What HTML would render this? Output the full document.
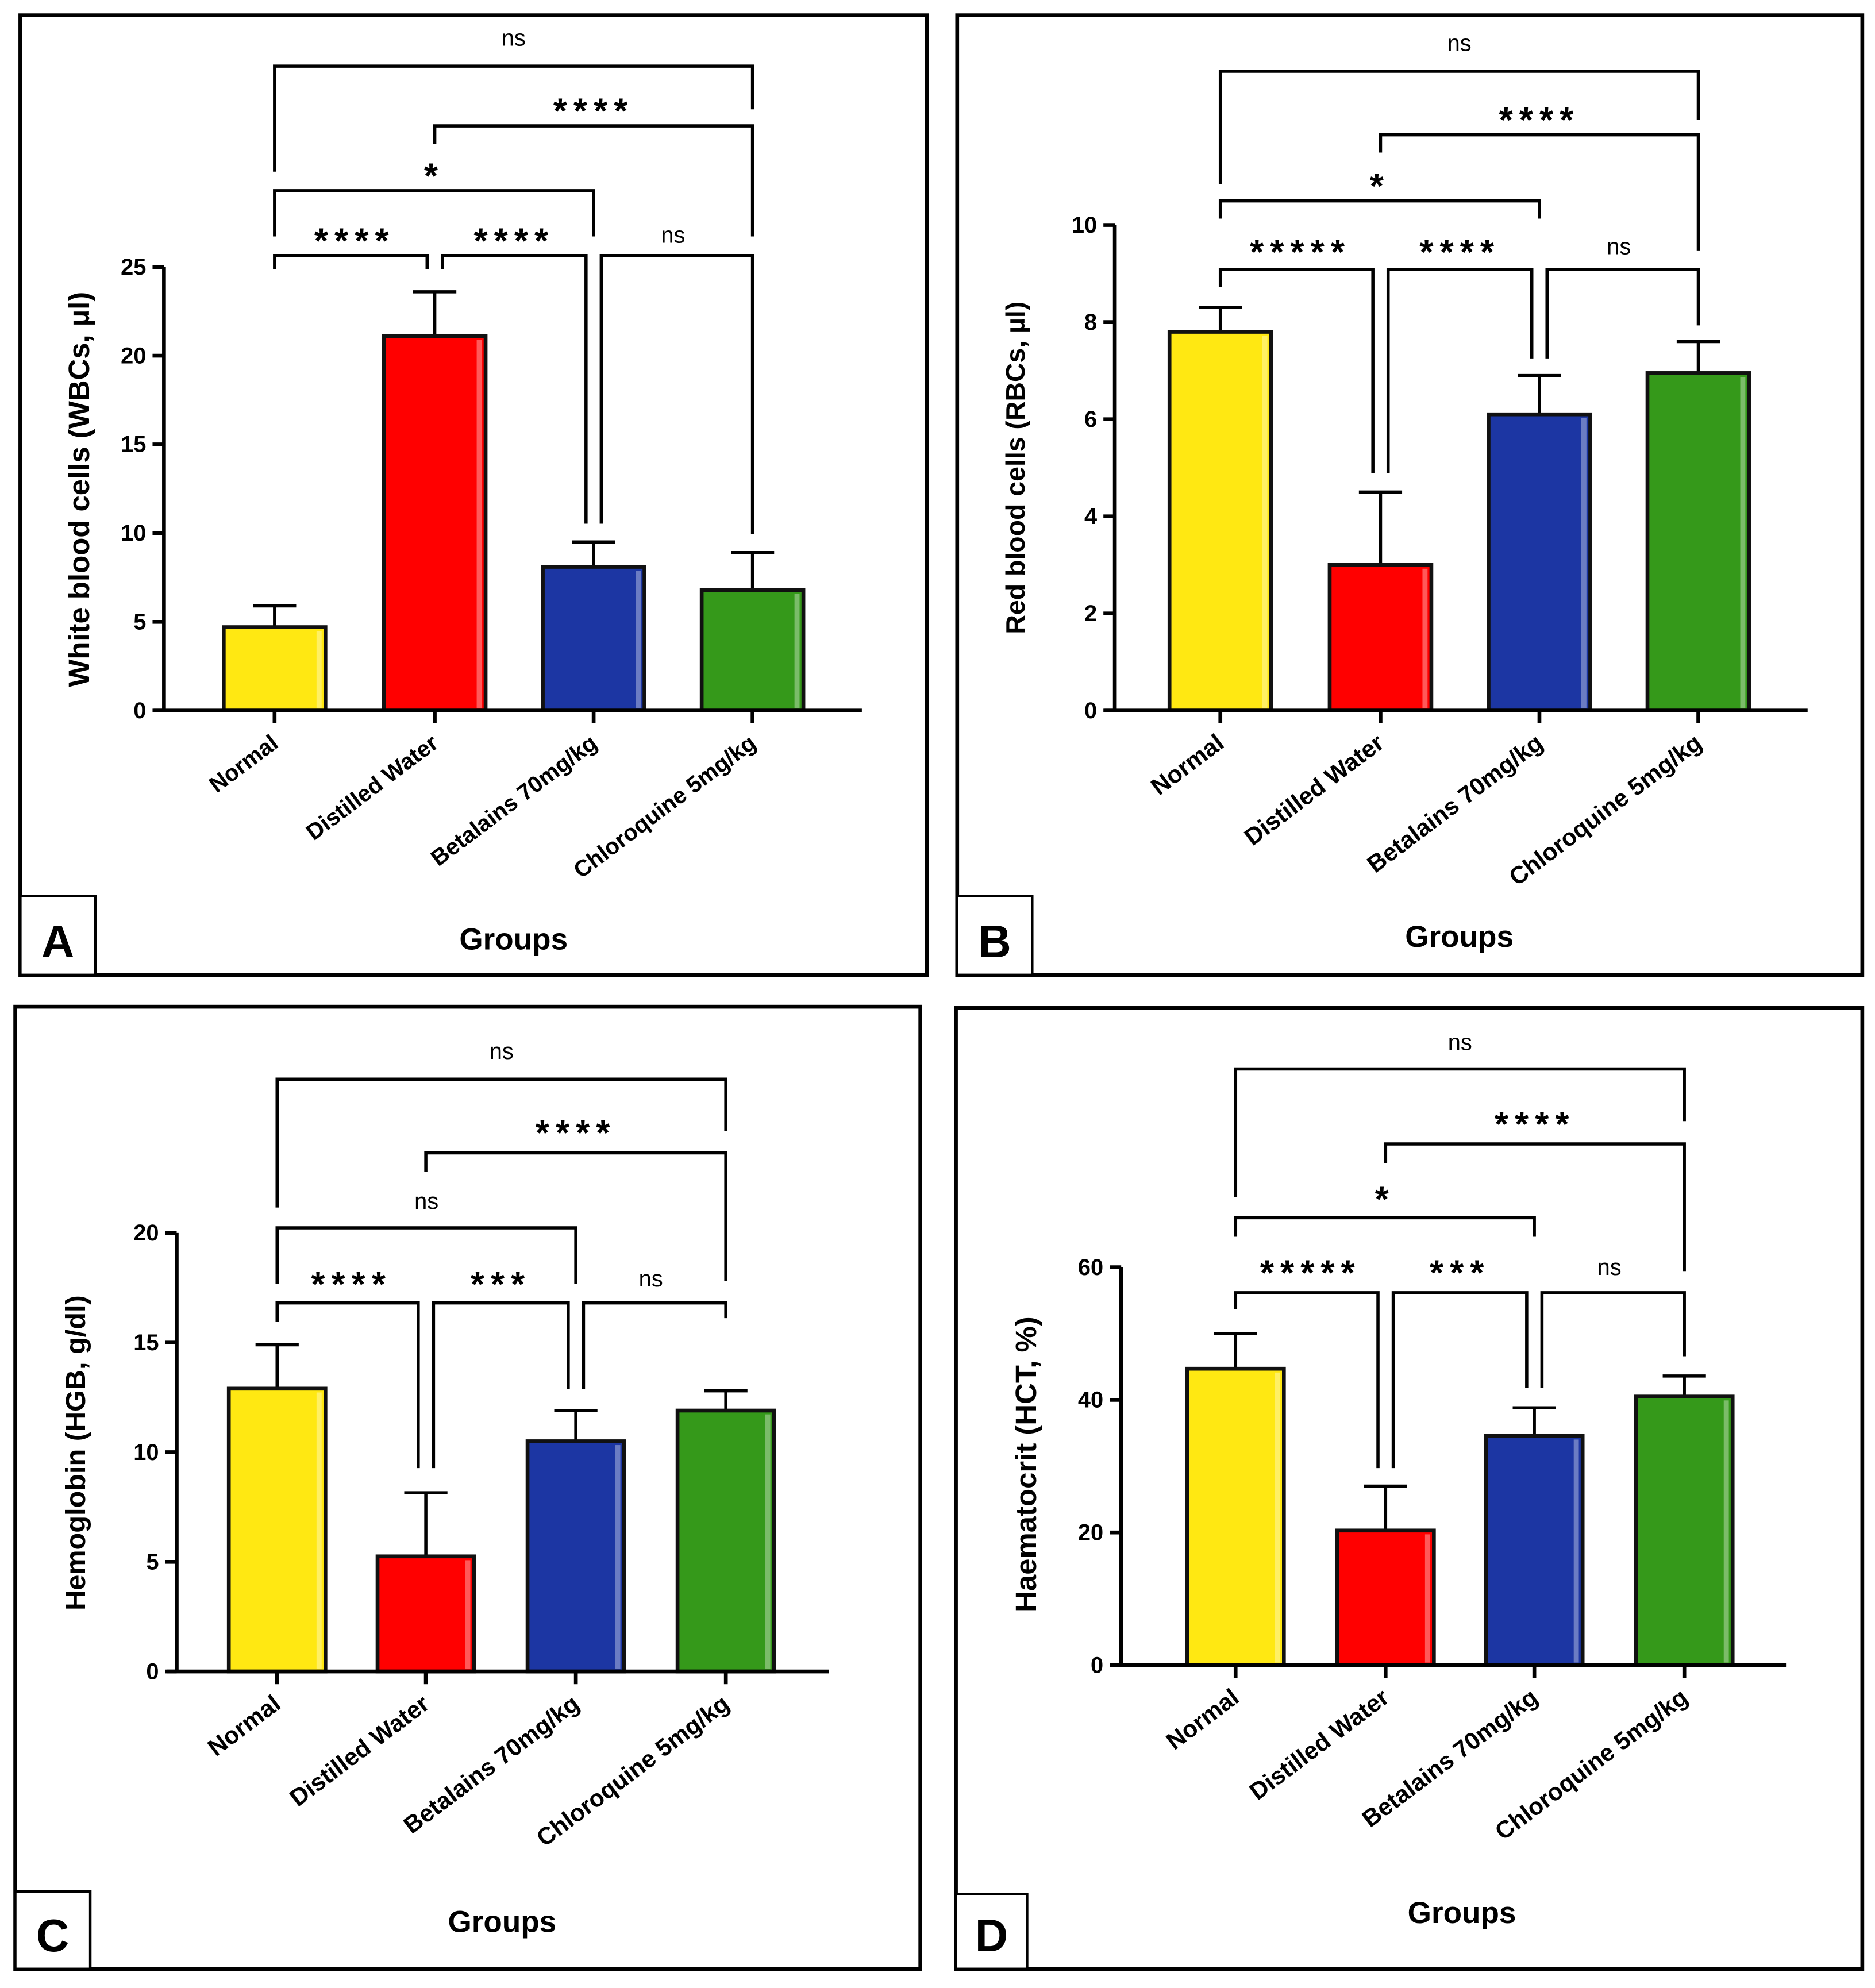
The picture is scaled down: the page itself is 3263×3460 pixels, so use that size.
<!DOCTYPE html>
<html><head><meta charset="utf-8"><style>
html,body{margin:0;padding:0;background:#fff;}
svg{display:block;}
text{font-family:"Liberation Sans",Arial,sans-serif;font-weight:bold;fill:#000;}
</style></head><body>
<svg id="fig" width="3263" height="3460" viewBox="0 0 1475 1564" xmlns="http://www.w3.org/2000/svg"></svg>
<script>
const categories = ["Normal","Distilled Water","Betalains 70mg/kg","Chloroquine 5mg/kg"];
const categoriesA = ["Normal","Distilled Water","Betalains 70mg/kg","Chloroquine  5mg/kg"];
const barColors = ["#ffe812","#ff0000","#1c36a3","#35991a"];
const meansA = [4.7, 21.1, 8.1, 6.8];
const errsA  = [5.9, 23.6, 9.5, 8.9];
const ticksA = [0,5,10,15,20,25];
const meansB = [7.8, 3.0, 6.1, 6.95];
const errsB  = [8.3, 4.5, 6.9, 7.6];
const ticksB = [0,2,4,6,8,10];
const meansC = [12.9, 5.25, 10.5, 11.9];
const errsC  = [14.9, 8.15, 11.9, 12.8];
const ticksC = [0,5,10,15,20];
const meansD = [44.7, 20.3, 34.6, 40.5];
const errsD  = [50, 27, 38.8, 43.6];
const ticksD = [0,20,40,60];
const sigA = ["ns","****","*","****","****","ns"];
const sigB = ["ns","****","*","*****","****","ns"];
const sigC = ["ns","****","ns","****","***","ns"];
const sigD = ["ns","****","*","*****","***","ns"];

const NS="http://www.w3.org/2000/svg";
const svg=document.getElementById('fig');
function mk(tag,attrs,parent){const e=document.createElementNS(NS,tag);for(const k in attrs)e.setAttribute(k,attrs[k]);(parent||svg).appendChild(e);return e;}

const panels=[
 {id:'a',letter:'A',frame:[16,12,729,767],box:[16,705,75,767],ax:129,y0:559,yTop:210,xEnd:678,centers:[216,342,467,592],bw:80,
  ticks:ticksA,means:meansA,errs:errsA,cats:categoriesA,title:"White blood cells (WBCs, µl)",tsz:23,tx:70,ty:385,gx:404,groupsY:747,fs:18,sig:sigA,
  br:[[52,32,135,86],[99,85,113,186],[150,136,186,186],[201,187]],low:[212,212,412,420]},
 {id:'b',letter:'B',frame:[753,12,1465,767],box:[753,705,812,767],ax:877,y0:559,yTop:177,xEnd:1422,centers:[960,1086,1211,1336],bw:80,
  ticks:ticksB,means:meansB,errs:errsB,cats:categories,title:"Red blood cells (RBCs, µl)",tsz:21,tx:806,ty:368,gx:1148,groupsY:745,fs:19,sig:sigB,
  br:[[56,36,145,94],[106,92,120,197],[158,144,172,172],[212,196]],low:[226,372,282,256]},
 {id:'c',letter:'C',frame:[12,792,724,1549],box:[12,1488,71,1549],ax:139,y0:1315,yTop:970,xEnd:652,centers:[218,335,453,571],bw:76,
  ticks:ticksC,means:meansC,errs:errsC,cats:categories,title:"Hemoglobin (HGB, g/dl)",tsz:22,tx:67,ty:1143,gx:395,groupsY:1520,fs:19,sig:sigC,
  br:[[849,829,950,890],[907,889,922,1008],[966,947,1010,1010],[1025,1008]],low:[1040,1155,1093,1037]},
 {id:'d',letter:'D',frame:[752,793,1465,1549],box:[752,1490,808,1549],ax:882,y0:1310,yTop:997,xEnd:1405,centers:[972,1090,1207,1325],bw:76,
  ticks:ticksD,means:meansD,errs:errsD,cats:categories,title:"Haematocrit (HCT, %)",tsz:23,tx:815,ty:1152,gx:1150,groupsY:1513,fs:19,sig:sigD,
  br:[[841,822,942,882],[900,882,915,1000],[958,941,973,973],[1017,999]],low:[1030,1155,1092,1067]}
];

panels.forEach(p=>{
  const g=mk('g',{});
  
  
  const f=p.frame;
  const fr=mk('rect',{x:f[0],y:f[1],width:f[2]-f[0],height:f[3]-f[1],fill:'none',stroke:'#000','stroke-width':3},g);
  
  
  const b=p.box;
  const bx=mk('rect',{x:b[0],y:b[1],width:b[2]-b[0],height:b[3]-b[1],fill:'#fff',stroke:'#000','stroke-width':2},g);
  
  
  const lt=mk('text',{x:(b[0]+b[2])/2,y:b[3]-14,'text-anchor':'middle','font-size':36},g);
  lt.textContent=p.letter;
  
  
  const maxT=p.ticks[p.ticks.length-1];
  const Y=v=>p.y0-(v/maxT)*(p.y0-p.yTop);
  p.means.forEach((m,i)=>{
    const cx=p.centers[i];
    const eb=mk('g',{},g);
    
    
    mk('line',{x1:cx,y1:Y(m),x2:cx,y2:Y(p.errs[i]),stroke:'#000','stroke-width':2.5},eb);
    mk('line',{x1:cx-17,y1:Y(p.errs[i]),x2:cx+17,y2:Y(p.errs[i]),stroke:'#000','stroke-width':2.5},eb);
    const r=mk('rect',{x:cx-p.bw/2,y:Y(m),width:p.bw,height:p.y0-Y(m),fill:barColors[i],stroke:'#111','stroke-width':3},g);
    
    
    mk('rect',{x:cx+p.bw/2-7,y:Y(m)+3,width:4,height:p.y0-Y(m)-5,fill:'#fff',opacity:0.35},g);
  });
  const ya=mk('line',{x1:p.ax,y1:p.yTop,x2:p.ax,y2:p.y0,stroke:'#000','stroke-width':3},g);
  
  
  const xa=mk('line',{x1:p.ax-8,y1:p.y0,x2:p.xEnd,y2:p.y0,stroke:'#000','stroke-width':3},g);
  
  
  p.ticks.forEach(t=>{
    mk('line',{x1:p.ax-9,y1:Y(t),x2:p.ax,y2:Y(t),stroke:'#000','stroke-width':3},g);
    const tl=mk('text',{x:p.ax-14,y:Y(t)+6,'text-anchor':'end','font-size':18},g);
    tl.textContent=t;
    
    
  });
  p.cats.forEach((c,i)=>{
    const cx=p.centers[i];
    mk('line',{x1:cx,y1:p.y0,x2:cx,y2:p.y0+10,stroke:'#000','stroke-width':3},g);
    const xl=mk('text',{x:cx+4,y:p.y0+28,'text-anchor':'end','font-size':p.fs,transform:`rotate(-37 ${cx+4} ${p.y0+28})`},g);
    xl.textContent=c;
    
    
  });
  const yt=mk('text',{x:p.tx,y:p.ty,'text-anchor':'middle','font-size':p.tsz,transform:`rotate(-90 ${p.tx} ${p.ty})`},g);
  yt.textContent=p.title;
  
  
  const xt=mk('text',{x:p.gx,y:p.groupsY,'text-anchor':'middle','font-size':24},g);
  xt.textContent='Groups';
  
  
  const C=p.centers;
  const lineP=(pts)=>{const pl=mk('polyline',{points:pts.map(q=>q.join(',')).join(' '),fill:'none',stroke:'#000','stroke-width':2.5},g);};
  const lab=(x,y,s)=>{const star=s.indexOf('*')>=0;const t=mk('text',{x:x,y:star?y+12:y+4,'text-anchor':'middle','font-size':star?28:18,'letter-spacing':star?5:0},g);if(!star)t.setAttribute('style','font-weight:normal');t.textContent=s;};
  const br=p.br;
  lineP([[C[0],br[0][2]],[C[0],br[0][0]],[C[3],br[0][0]],[C[3],br[0][3]]]); lab((C[0]+C[3])/2,br[0][1],p.sig[0]);
  lineP([[C[1],br[1][2]],[C[1],br[1][0]],[C[3],br[1][0]],[C[3],br[1][3]]]); lab((C[1]+C[3])/2,br[1][1],p.sig[1]);
  lineP([[C[0],br[2][2]],[C[0],br[2][0]],[C[2],br[2][0]],[C[2],br[2][3]]]); lab((C[0]+C[2])/2,br[2][1],p.sig[2]);
  const ly=br[3][0], L=p.low;
  lineP([[C[0],L[0]],[C[0],ly],[C[1]-6,ly],[C[1]-6,L[1]]]); lab((C[0]+C[1])/2,br[3][1],p.sig[3]);
  lineP([[C[1]+6,L[1]],[C[1]+6,ly],[C[2]-6,ly],[C[2]-6,L[2]]]); lab((C[1]+C[2])/2,br[3][1],p.sig[4]);
  lineP([[C[2]+6,L[2]],[C[2]+6,ly],[C[3],ly],[C[3],L[3]]]); lab((C[2]+C[3])/2,br[3][1],p.sig[5]);
});
</script>
</body></html>
